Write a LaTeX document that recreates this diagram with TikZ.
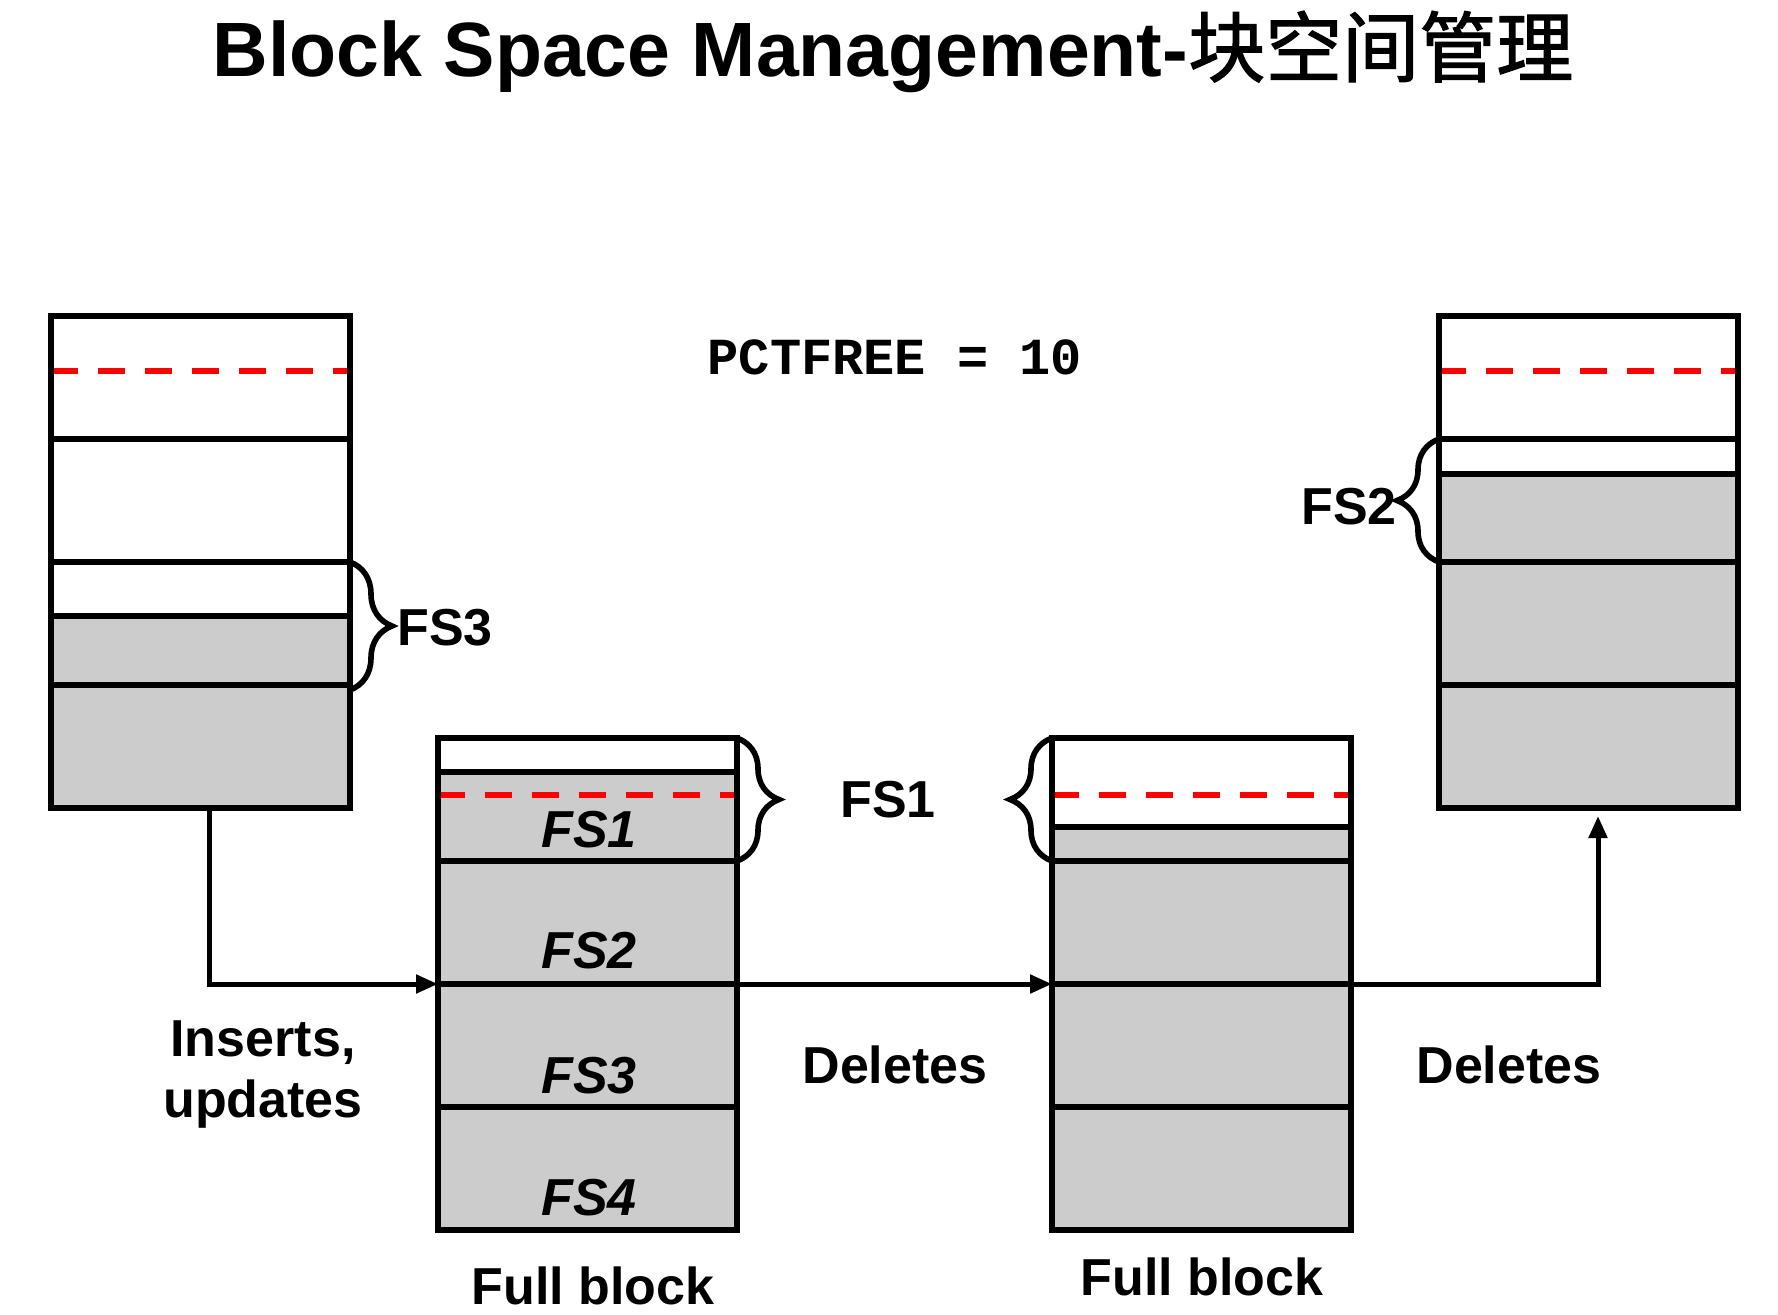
\documentclass[tikz,border=0pt]{standalone}
\usepackage{fontspec}
\setmainfont{Liberation Sans}
\newfontfamily\cjkfont[FakeBold=1.5]{Noto Sans CJK SC}
\newfontfamily\codefont{Liberation Mono}
\usetikzlibrary{arrows.meta,decorations.pathreplacing,calc}
\definecolor{usedgray}{HTML}{CCCCCC}

\begin{document}
\begin{tikzpicture}[x=0.5pt,y=-0.5pt,
  blockbox/.style={draw=black, line width=3pt, minimum width=149.5pt,
    minimum height=246pt, inner sep=0pt, outer sep=0pt, anchor=north west},
  rule/.style={line width=3pt},
  limit/.style={draw=red, line width=3pt, dash pattern=on 13.5pt off 10pt},
  bracemark/.style={decorate, decoration={brace, amplitude=21pt}, line width=2.8pt},
  flow/.style={line width=2.5pt, -{Triangle[length=11pt,width=9pt]}},
  lbl/.style={font=\fontsize{26}{30}\selectfont\bfseries, anchor=base, inner sep=0pt},
  fslbl/.style={lbl, font=\fontsize{26}{30}\selectfont\bfseries\itshape},
  codelbl/.style={lbl, font=\fontsize{26}{30}\selectfont\codefont\bfseries},
  titlelbl/.style={font=\fontsize{38.5}{46}\selectfont\bfseries, anchor=base, inner sep=0pt},
]
\useasboundingbox[fill=white] (0,0) rectangle (1778,1314);

% title
\node[titlelbl] (title) at (893,76) {Block Space Management-{\cjkfont\mdseries 块空间管理}};
\node[codelbl] (pct) at (895,374) {PCTFREE = 10};

% block 1: partly filled
\begin{scope}[shift={(51,316)}]
  \fill[usedgray] (0,300) rectangle (299,492);
  \draw[limit] (0,55) -- (299,55);
  \foreach \y in {123,246,300,369} \draw[rule] (0,\y) -- (299,\y);
  \node[blockbox] (b1) at (0,0) {};
\end{scope}

% block 2: full block
\begin{scope}[shift={(438,738)}]
  \fill[usedgray] (0,34) rectangle (299,492);
  \draw[limit] (0,57) -- (299,57);
  \foreach \y in {34,123,246,369} \draw[rule] (0,\y) -- (299,\y);
  \node[blockbox] (b2) at (0,0) {};
\end{scope}

% block 3: full block after deletes
\begin{scope}[shift={(1052,738)}]
  \fill[usedgray] (0,89) rectangle (299,492);
  \draw[limit] (0,57) -- (299,57);
  \foreach \y in {89,123,246,369} \draw[rule] (0,\y) -- (299,\y);
  \node[blockbox] (b3) at (0,0) {};
\end{scope}

% block 4: after more deletes
\begin{scope}[shift={(1439,316)}]
  \fill[usedgray] (0,158) rectangle (299,492);
  \draw[limit] (0,55) -- (299,55);
  \foreach \y in {123,158,246,369} \draw[rule] (0,\y) -- (299,\y);
  \node[blockbox] (b4) at (0,0) {};
\end{scope}

% free-space braces
\draw[bracemark] ([yshift=-123pt]b1.north east) -- ([yshift=-187pt]b1.north east);
\draw[bracemark] (b2.north east) -- ([yshift=-61.5pt]b2.north east);
\draw[bracemark] ([yshift=-61.5pt]b3.north west) -- (b3.north west);
\draw[bracemark] ([yshift=-123pt]b4.north west) -- ([yshift=-61.5pt]b4.north west);

% flow between blocks
\draw[flow] ([xshift=4.5pt]b1.south) |- (b2.west);
\draw[flow] (b2.east) -- (b3.west);
\draw[flow] (b3.east) -| ([xshift=4.75pt,yshift=-4pt]b4.south);

% labels
\node[lbl, anchor=base west] (fs3out) at (397,645) {FS3};
\node[lbl] (fs1out) at (888,817) {FS1};
\node[lbl] (fs2out) at (1349,524) {FS2};

\node[fslbl] (in1) at (589,847) {FS1};
\node[fslbl] (in2) at (589,968) {FS2};
\node[fslbl] (in3) at (589,1093) {FS3};
\node[fslbl] (in4) at (589,1215) {FS4};

\node[lbl] (ins) at (263,1056) {Inserts,};
\node[lbl] (upd) at (263,1117) {updates};
\node[lbl] (del1) at (895,1083) {Deletes};
\node[lbl] (del2) at (1509,1083) {Deletes};
\node[lbl] (full1) at (593,1304) {Full block};
\node[lbl] (full2) at (1202,1295) {Full block};
\end{tikzpicture}
\end{document}
